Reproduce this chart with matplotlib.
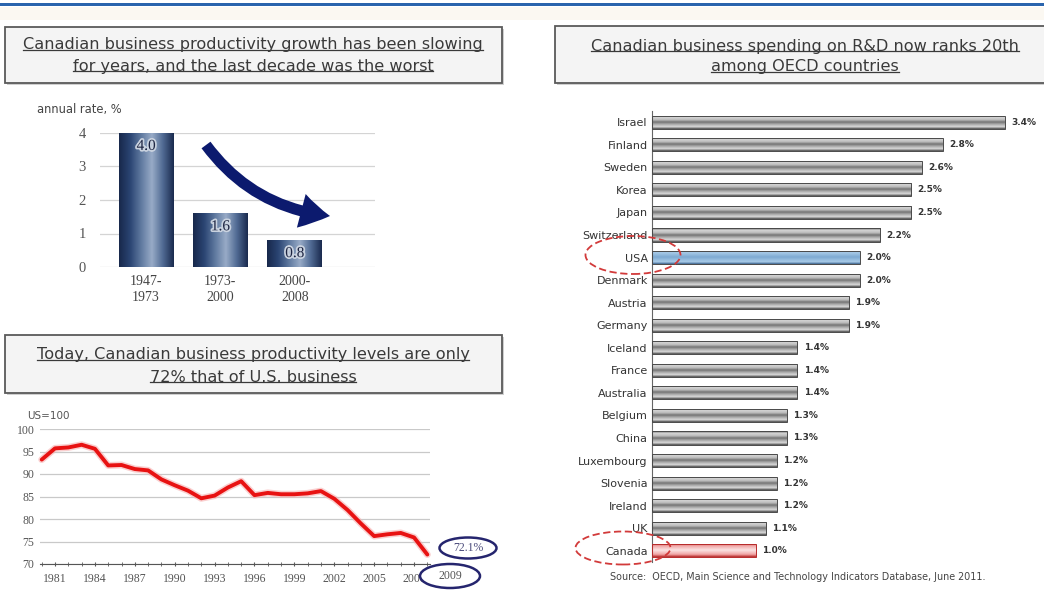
import matplotlib
matplotlib.use('Agg')
import matplotlib.pyplot as plt
import matplotlib.patheffects as pe
import numpy as np
from matplotlib.patches import Rectangle, Ellipse, FancyArrowPatch
from matplotlib.colors import LinearSegmentedColormap
from matplotlib.lines import Line2D

W, H = 1044, 593

# business productivity growth, annual rate %
periods = ['1947-\n1973', '1973-\n2000', '2000-\n2008']
growth = [4.0, 1.6, 0.8]

# Canadian business productivity level, US=100
years = list(range(1980, 2010))
level = [93.2, 95.7, 95.9, 96.5, 95.6, 91.9, 92.0, 91.1, 90.8, 88.8,
         87.5, 86.3, 84.6, 85.2, 87.0, 88.4, 85.3, 85.8, 85.5, 85.5,
         85.7, 86.2, 84.5, 82.0, 79.0, 76.2, 76.6, 76.9, 75.9, 72.1]

# business R&D spending, % of GDP
countries = ['Israel', 'Finland', 'Sweden', 'Korea', 'Japan', 'Switzerland',
             'USA', 'Denmark', 'Austria', 'Germany', 'Iceland', 'France',
             'Australia', 'Belgium', 'China', 'Luxembourg', 'Slovenia',
             'Ireland', 'UK', 'Canada']
rd_share = [3.4, 2.8, 2.6, 2.5, 2.5, 2.2, 2.0, 2.0, 1.9, 1.9, 1.4, 1.4,
            1.4, 1.3, 1.3, 1.2, 1.2, 1.2, 1.1, 1.0]


def px_rect(x0, y0, x1, y1):
    # pixel box (origin top-left) -> figure fraction rect
    return [x0 / W, 1 - y1 / H, (x1 - x0) / W, (y1 - y0) / H]


def fpt(x, y):
    return x / W, 1 - y / H


fig = plt.figure(figsize=(W / 100, H / 100), dpi=100)
fig.patch.set_facecolor('white')

# header rule
fig.add_artist(Rectangle(fpt(0, 6), 1, 3 / H, transform=fig.transFigure,
                         color='#2a64ad', lw=0))
fig.add_artist(Rectangle(fpt(0, 20), 1, 13 / H, transform=fig.transFigure,
                         color='#fbf8f2', lw=0, zorder=0))

title_texts = []


def title_box(x0, y0, x1, y1, lines, ys, cx):
    fig.add_artist(Rectangle(fpt(x0 + 2, y1 + 2), (x1 - x0) / W, (y1 - y0) / H,
                             transform=fig.transFigure, color='#cfcfcf', lw=0))
    fig.add_artist(Rectangle(fpt(x0, y1), (x1 - x0) / W, (y1 - y0) / H,
                             transform=fig.transFigure, facecolor='#f4f4f4',
                             edgecolor='#5a5a5a', lw=1.3))
    for s, y in zip(lines, ys):
        t = fig.text(*fpt(cx, y), s, ha='center', va='center',
                     fontsize=11.6, color='#3a3a3a', zorder=3)
        title_texts.append(t)


title_box(5, 27, 502, 83,
          ['Canadian business productivity growth has been slowing',
           'for years, and the last decade was the worst'], [45, 66], 253)
title_box(5, 335, 502, 393,
          ['Today, Canadian business productivity levels are only',
           '72% that of U.S. business'], [355, 377], 253)
title_box(555, 26, 1052, 83,
          ['Canadian business spending on R&D now ranks 20th',
           'among OECD countries'], [46, 67], 805)

# ---- growth by period ----
ax1 = fig.add_axes(px_rect(100, 133, 375, 267))
navy = LinearSegmentedColormap.from_list(
    'navy', ['#18284b', '#2a4472', '#5f799f', '#98abc7', '#506a93', '#1a2a4e'])
xs = np.arange(len(growth))
bars = ax1.bar(xs, growth, width=0.74, color='none', zorder=2)
grad = np.linspace(0, 1, 256).reshape(1, -1)
for b in bars:
    im = ax1.imshow(grad, cmap=navy, aspect='auto', zorder=2,
                    extent=[b.get_x(), b.get_x() + b.get_width(), 0, b.get_height()])
    im.set_clip_path(b)
for x, v in zip(xs, growth):
    ax1.text(x, v - 0.4, '%.1f' % v, ha='center', va='center', fontsize=11,
             family='Liberation Serif', color='#1c2340', zorder=4,
             path_effects=[pe.withStroke(linewidth=2.5, foreground='#c9d2df')])
ax1.set_xlim(-0.62, 3.08)
ax1.set_ylim(0, 4)
ax1.set_yticks(range(0, 5))
ax1.set_xticks(xs)
ax1.set_xticklabels(periods, family='Liberation Serif', fontsize=10, color='#444',
                    linespacing=1.3)
for lab in ax1.get_yticklabels():
    lab.set_family('Liberation Serif')
ax1.tick_params(axis='y', length=0, pad=10, labelsize=10.5, labelcolor='#555')
ax1.tick_params(axis='x', length=0, pad=6)
ax1.grid(axis='y', color='#d4d4d4', lw=0.9, zorder=0)
for s in ax1.spines.values():
    s.set_visible(False)
fig.text(*fpt(37, 110), 'annual rate, %', fontsize=8.3, color='#444', va='center')
fig.add_artist(FancyArrowPatch(fpt(206, 145), fpt(330, 216), transform=fig.transFigure,
                               connectionstyle='arc3,rad=0.22', shrinkA=0, shrinkB=0,
                               arrowstyle='simple,head_length=21,head_width=25,tail_width=8',
                               color='#0c1a6e', lw=0))

# ---- productivity level vs US ----
ax2 = fig.add_axes(px_rect(40, 429, 430, 564))
ax2.plot(years, level, color='#e81212', lw=2.8, solid_joinstyle='round',
         solid_capstyle='round', clip_on=False, zorder=3,
         path_effects=[pe.Stroke(linewidth=5, foreground='#f7b0b0', alpha=0.6), pe.Normal()])
ax2.set_xlim(1979.87, 2009.2)
ax2.set_ylim(70, 100)
ax2.set_yticks(range(70, 101, 5))
ax2.set_xticks(range(1981, 2009, 3))
ax2.set_xticks(years, minor=True)
ax2.grid(axis='y', color='#c9c9c9', lw=0.9, zorder=0)
for s in ['top', 'right', 'left']:
    ax2.spines[s].set_visible(False)
ax2.spines['bottom'].set_color('#555')
ax2.tick_params(axis='y', length=0, pad=4, labelsize=8.5, labelcolor='#555')
ax2.tick_params(axis='x', which='both', direction='inout', length=3, color='#555',
                labelsize=8.5, labelcolor='#555', pad=5)
for lab in ax2.get_xticklabels() + ax2.get_yticklabels():
    lab.set_family('Liberation Serif')
fig.text(*fpt(27, 416), 'US=100', fontsize=7.5, color='#555', va='center')
fig.add_artist(Ellipse(fpt(468, 548), 57 / W, 21 / H, transform=fig.transFigure,
                       fill=False, ec='#25256e', lw=1.8))
fig.text(*fpt(468, 548), '72.1%', fontsize=8.5, family='Liberation Serif',
         color='#4a4a7a', ha='center', va='center')
fig.add_artist(Ellipse(fpt(450, 576), 60 / W, 24 / H, transform=fig.transFigure,
                       facecolor='white', ec='#25256e', lw=1.8))
fig.text(*fpt(450, 576), '2009', fontsize=8.5, family='Liberation Serif',
         color='#555', ha='center', va='center', zorder=3)

# ---- business R&D ranking ----
ax3 = fig.add_axes(px_rect(652, 111, 1040, 562))
gray = LinearSegmentedColormap.from_list(
    'gray', [(0, '#4a4a4a'), (0.14, '#d6d6d6'), (0.34, '#bcbcbc'), (0.5, '#727272'),
             (0.64, '#a4a4a4'), (0.84, '#dadada'), (1, '#4e4e4e')])
blue = LinearSegmentedColormap.from_list(
    'blue', [(0, '#3d6690'), (0.15, '#a9cbe8'), (0.5, '#7eaad2'), (0.85, '#a9cbe8'),
             (1, '#3d6690')])
red = LinearSegmentedColormap.from_list(
    'red', [(0, '#b72a2a'), (0.18, '#f0a3a3'), (0.5, '#fbe4e4'), (0.82, '#f0a3a3'),
            (1, '#b72a2a')])
idx = np.arange(len(countries))
hbars = ax3.barh(idx, rd_share, height=0.58, color='none', edgecolor='#4a4a4a',
                 lw=0.7, zorder=3)
vgrad = np.linspace(0, 1, 64).reshape(-1, 1)
for name, b in zip(countries, hbars):
    cm = blue if name == 'USA' else red if name == 'Canada' else gray
    if name == 'Canada':
        b.set_edgecolor('#b72a2a')
    y0 = b.get_y()
    im = ax3.imshow(vgrad, cmap=cm, aspect='auto', zorder=2,
                    extent=[0, b.get_width(), y0 + b.get_height(), y0])
    im.set_clip_path(b)
for i, v in zip(idx, rd_share):
    ax3.text(v + 0.06, i, '%.1f%%' % v, ha='left', va='center', fontsize=6.5,
             fontweight='bold', color='#333')
ax3.set_xlim(0, 3.738)
ax3.set_ylim(19.5, -0.5)
ax3.set_yticks(idx)
ax3.set_yticklabels(countries)
ax3.set_xticks([])
ax3.tick_params(axis='y', length=0, pad=3, labelsize=8, labelcolor='#333')
for s in ['top', 'right', 'bottom']:
    ax3.spines[s].set_visible(False)
ax3.spines['left'].set_color('#666')
for cx, cy, ew, eh in [(633, 255, 95, 38), (623, 548, 95, 33)]:
    fig.add_artist(Ellipse(fpt(cx, cy), ew / W, eh / H, transform=fig.transFigure,
                           fill=False, ec='#d23a3a', lw=1.3, ls=(0, (4, 2))))
fig.text(*fpt(610, 577),
         'Source:  OECD, Main Science and Technology Indicators Database, June 2011.',
         fontsize=6.9, color='#444', va='center')

# underline the panel headings
fig.canvas.draw()
for t in title_texts:
    bb = t.get_window_extent()
    y = (bb.y0 + 2.5) / H
    fig.add_artist(Line2D([bb.x0 / W, bb.x1 / W], [y, y], transform=fig.transFigure,
                          color='#3a3a3a', lw=0.9, zorder=3))

fig.savefig('out.png', dpi=100)
